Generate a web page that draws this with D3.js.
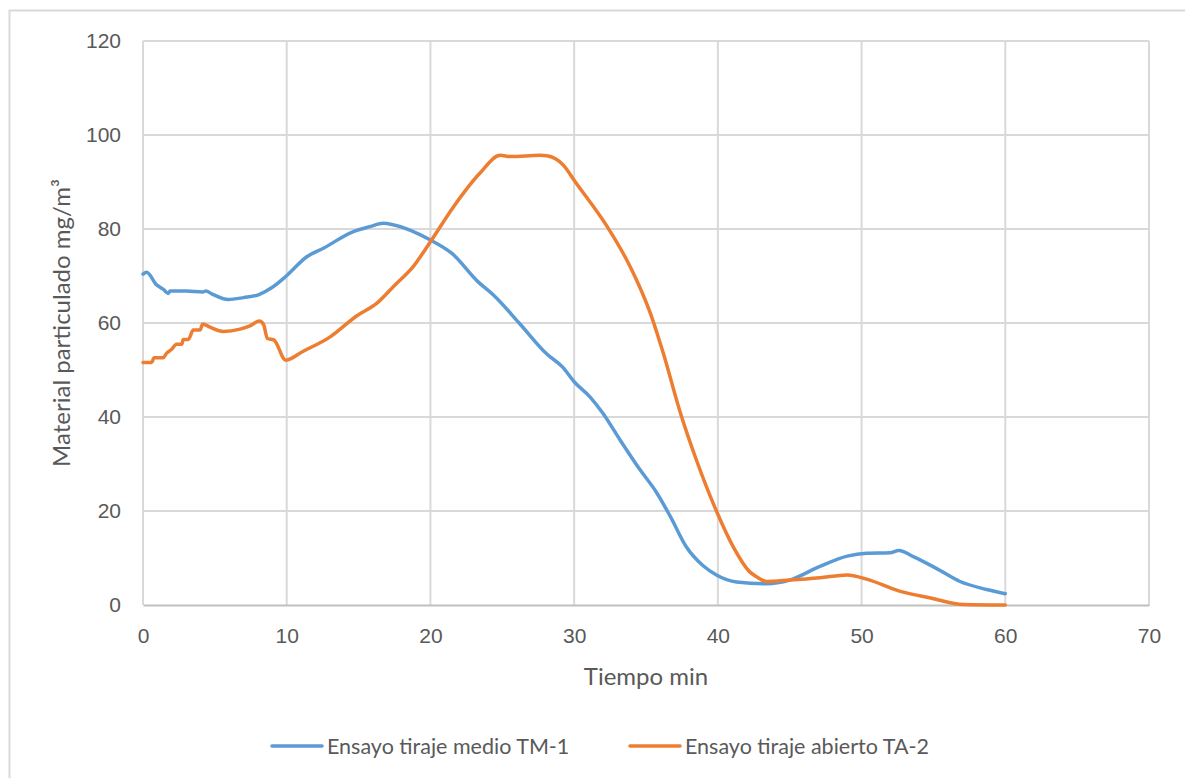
<!DOCTYPE html>
<html>
<head>
<meta charset="utf-8">
<script src="https://cdn.jsdelivr.net/npm/d3@7"></script>
<style>
    body { margin: 0; background: #fff; }
    svg { display: block; font-family: Lato, "Open Sans", sans-serif; }
</style>
</head>
<body>
<svg id="chart" width="1185" height="778"></svg>
<script>
// Series: [time in min, mg/m3]
const seriesNames = ["Ensayo tiraje medio TM-1", "Ensayo tiraje abierto TA-2"];
const seriesColors = ["#5b9bd5", "#ed7d31"];

const tm1 = [
    [0, 70.4], [0.25, 70.8], [0.95, 68.1], [1.4, 67.2], [1.76, 66.3], [1.88, 66.8],
    [3.0, 66.8], [4.15, 66.6], [4.38, 66.8], [4.78, 66.2], [5.94, 65.0], [7.0, 65.4],
    [8.03, 66.0], [9.0, 67.6], [9.93, 69.9], [11.4, 74.1], [12.55, 75.9], [14.6, 79.4],
    [15.8, 80.5], [16.72, 81.2], [17.4, 80.9], [19.97, 77.7], [21.5, 74.8], [23.3, 68.8],
    [24.4, 65.9], [26.2, 59.9], [28.1, 53.4], [29.2, 50.6], [30, 47.5], [31.1, 44.3],
    [32.0, 40.8], [33.2, 35.1], [34.6, 28.7], [35.7, 24.1], [36.7, 18.8], [37.8, 12.4],
    [39.0, 8.3], [39.9, 6.4], [41.3, 4.9], [43.4, 4.5], [45.0, 5.3], [47.1, 8.2],
    [49.0, 10.4], [50.35, 11.0], [51.98, 11.1], [52.6, 11.6], [53.6, 10.3], [55.2, 7.8],
    [56.85, 5.0], [58.7, 3.3], [60, 2.4]
];

const ta2 = [
    [0, 51.6], [0.6, 51.6], [0.77, 52.6], [1.4, 52.6], [1.65, 53.6], [2.0, 54.4],
    [2.33, 55.5], [2.7, 55.5], [2.8, 56.5], [3.15, 56.5], [3.5, 58.5], [3.97, 58.5],
    [4.15, 59.8], [4.66, 59.1], [5.6, 58.2], [6.75, 58.7], [7.44, 59.4], [8.1, 60.4],
    [8.4, 59.6], [8.65, 56.7], [9.1, 56.4], [9.93, 52.1], [11.15, 54.0], [13.0, 57.0],
    [14.86, 61.5], [16.3, 64.3], [17.5, 68.0], [18.8, 72.0], [20.0, 77.3], [21.6, 84.7],
    [23.45, 91.9], [24.85, 95.7], [25.6, 95.4], [27.6, 95.7], [28.1, 95.6], [29.25, 93.6],
    [30.06, 90.1], [32.3, 80.5], [33.66, 73.4], [34.35, 69.1], [35.3, 62.1], [36.2, 53.6],
    [37.4, 40.8], [38.5, 30.9], [39.9, 20.0], [41.1, 12.2], [42.2, 7.1], [42.7, 6.0],
    [43.4, 5.0], [45.0, 5.3], [47.1, 5.8], [49.0, 6.4], [50.35, 5.5], [52.7, 2.9],
    [54.8, 1.5], [57.1, 0.1], [60, 0]
];

const xTicks = [0, 10, 20, 30, 40, 50, 60, 70];
const yTicks = [0, 20, 40, 60, 80, 100, 120];

const svg = d3.select("#chart");
const margin = {top: 41, right: 36, bottom: 173, left: 143};
const width = 1185, height = 778;
const textColor = "#595959";

// Outer chart border
svg.append("rect")
    .attr("x", 9.5).attr("y", 10.5)
    .attr("width", 1200).attr("height", 800)
    .attr("fill", "none").attr("stroke", "#d9d9d9").attr("stroke-width", 2);

const x = d3.scaleLinear()
    .domain([0, 70])
    .range([margin.left, width - margin.right]);

const y = d3.scaleLinear()
    .domain([0, 120])
    .range([height - margin.bottom, margin.top]);

// Grid
svg.append("g")
    .selectAll("line")
    .data(yTicks.filter(d => d > 0))
    .enter().append("line")
    .attr("x1", x(0)).attr("x2", x(70))
    .attr("y1", d => y(d)).attr("y2", d => y(d))
    .attr("stroke", "#d9d9d9").attr("stroke-width", 2);

svg.append("g")
    .selectAll("line")
    .data(xTicks)
    .enter().append("line")
    .attr("x1", d => x(d)).attr("x2", d => x(d))
    .attr("y1", y(0)).attr("y2", y(120))
    .attr("stroke", "#d9d9d9").attr("stroke-width", 2);

// Axes
const xAxis = d3.axisBottom(x).tickValues(xTicks).tickSize(0).tickPadding(23);
const yAxis = d3.axisLeft(y).tickValues(yTicks).tickSize(0).tickPadding(22);

const gx = svg.append("g")
    .attr("transform", `translate(0,${y(0)})`)
    .call(xAxis);
gx.select(".domain").attr("stroke", "#bfbfbf").attr("stroke-width", 2);

const gy = svg.append("g")
    .attr("transform", `translate(${x(0)},0)`)
    .call(yAxis);
gy.select(".domain").remove();

svg.selectAll(".tick text")
    .attr("fill", textColor)
    .style("font-size", "21px");

// Lines
const line = d3.line()
    .x(d => x(d[0]))
    .y(d => y(d[1]))
    .curve(d3.curveMonotoneX);

[tm1, ta2].forEach((data, i) => {
    svg.append("path")
        .datum(data)
        .attr("fill", "none")
        .attr("stroke", seriesColors[i])
        .attr("stroke-width", 3.5)
        .attr("stroke-linejoin", "round")
        .attr("stroke-linecap", "round")
        .attr("d", line);
});

// Axis titles
svg.append("text")
    .attr("x", (x(0) + x(70)) / 2)
    .attr("y", 685)
    .attr("text-anchor", "middle")
    .attr("fill", textColor)
    .style("font-size", "24px")
    .text("Tiempo min");

svg.append("text")
    .attr("transform", `translate(70, ${(y(0) + y(120)) / 2}) rotate(-90)`)
    .attr("text-anchor", "middle")
    .attr("fill", textColor)
    .style("font-size", "24px")
    .text("Material particulado mg/m³");

// Legend
const legendItems = [{x: 272}, {x: 630}];
legendItems.forEach((item, i) => {
    const g = svg.append("g").attr("transform", `translate(${item.x}, 746)`);
    g.append("line")
        .attr("x1", 0).attr("x2", 50)
        .attr("stroke", seriesColors[i])
        .attr("stroke-width", 3.5)
        .attr("stroke-linecap", "round");
    g.append("text")
        .attr("x", 55).attr("dy", "0.35em")
        .attr("fill", textColor)
        .style("font-size", "21.5px")
        .text(seriesNames[i]);
});
</script>
</body>
</html>
